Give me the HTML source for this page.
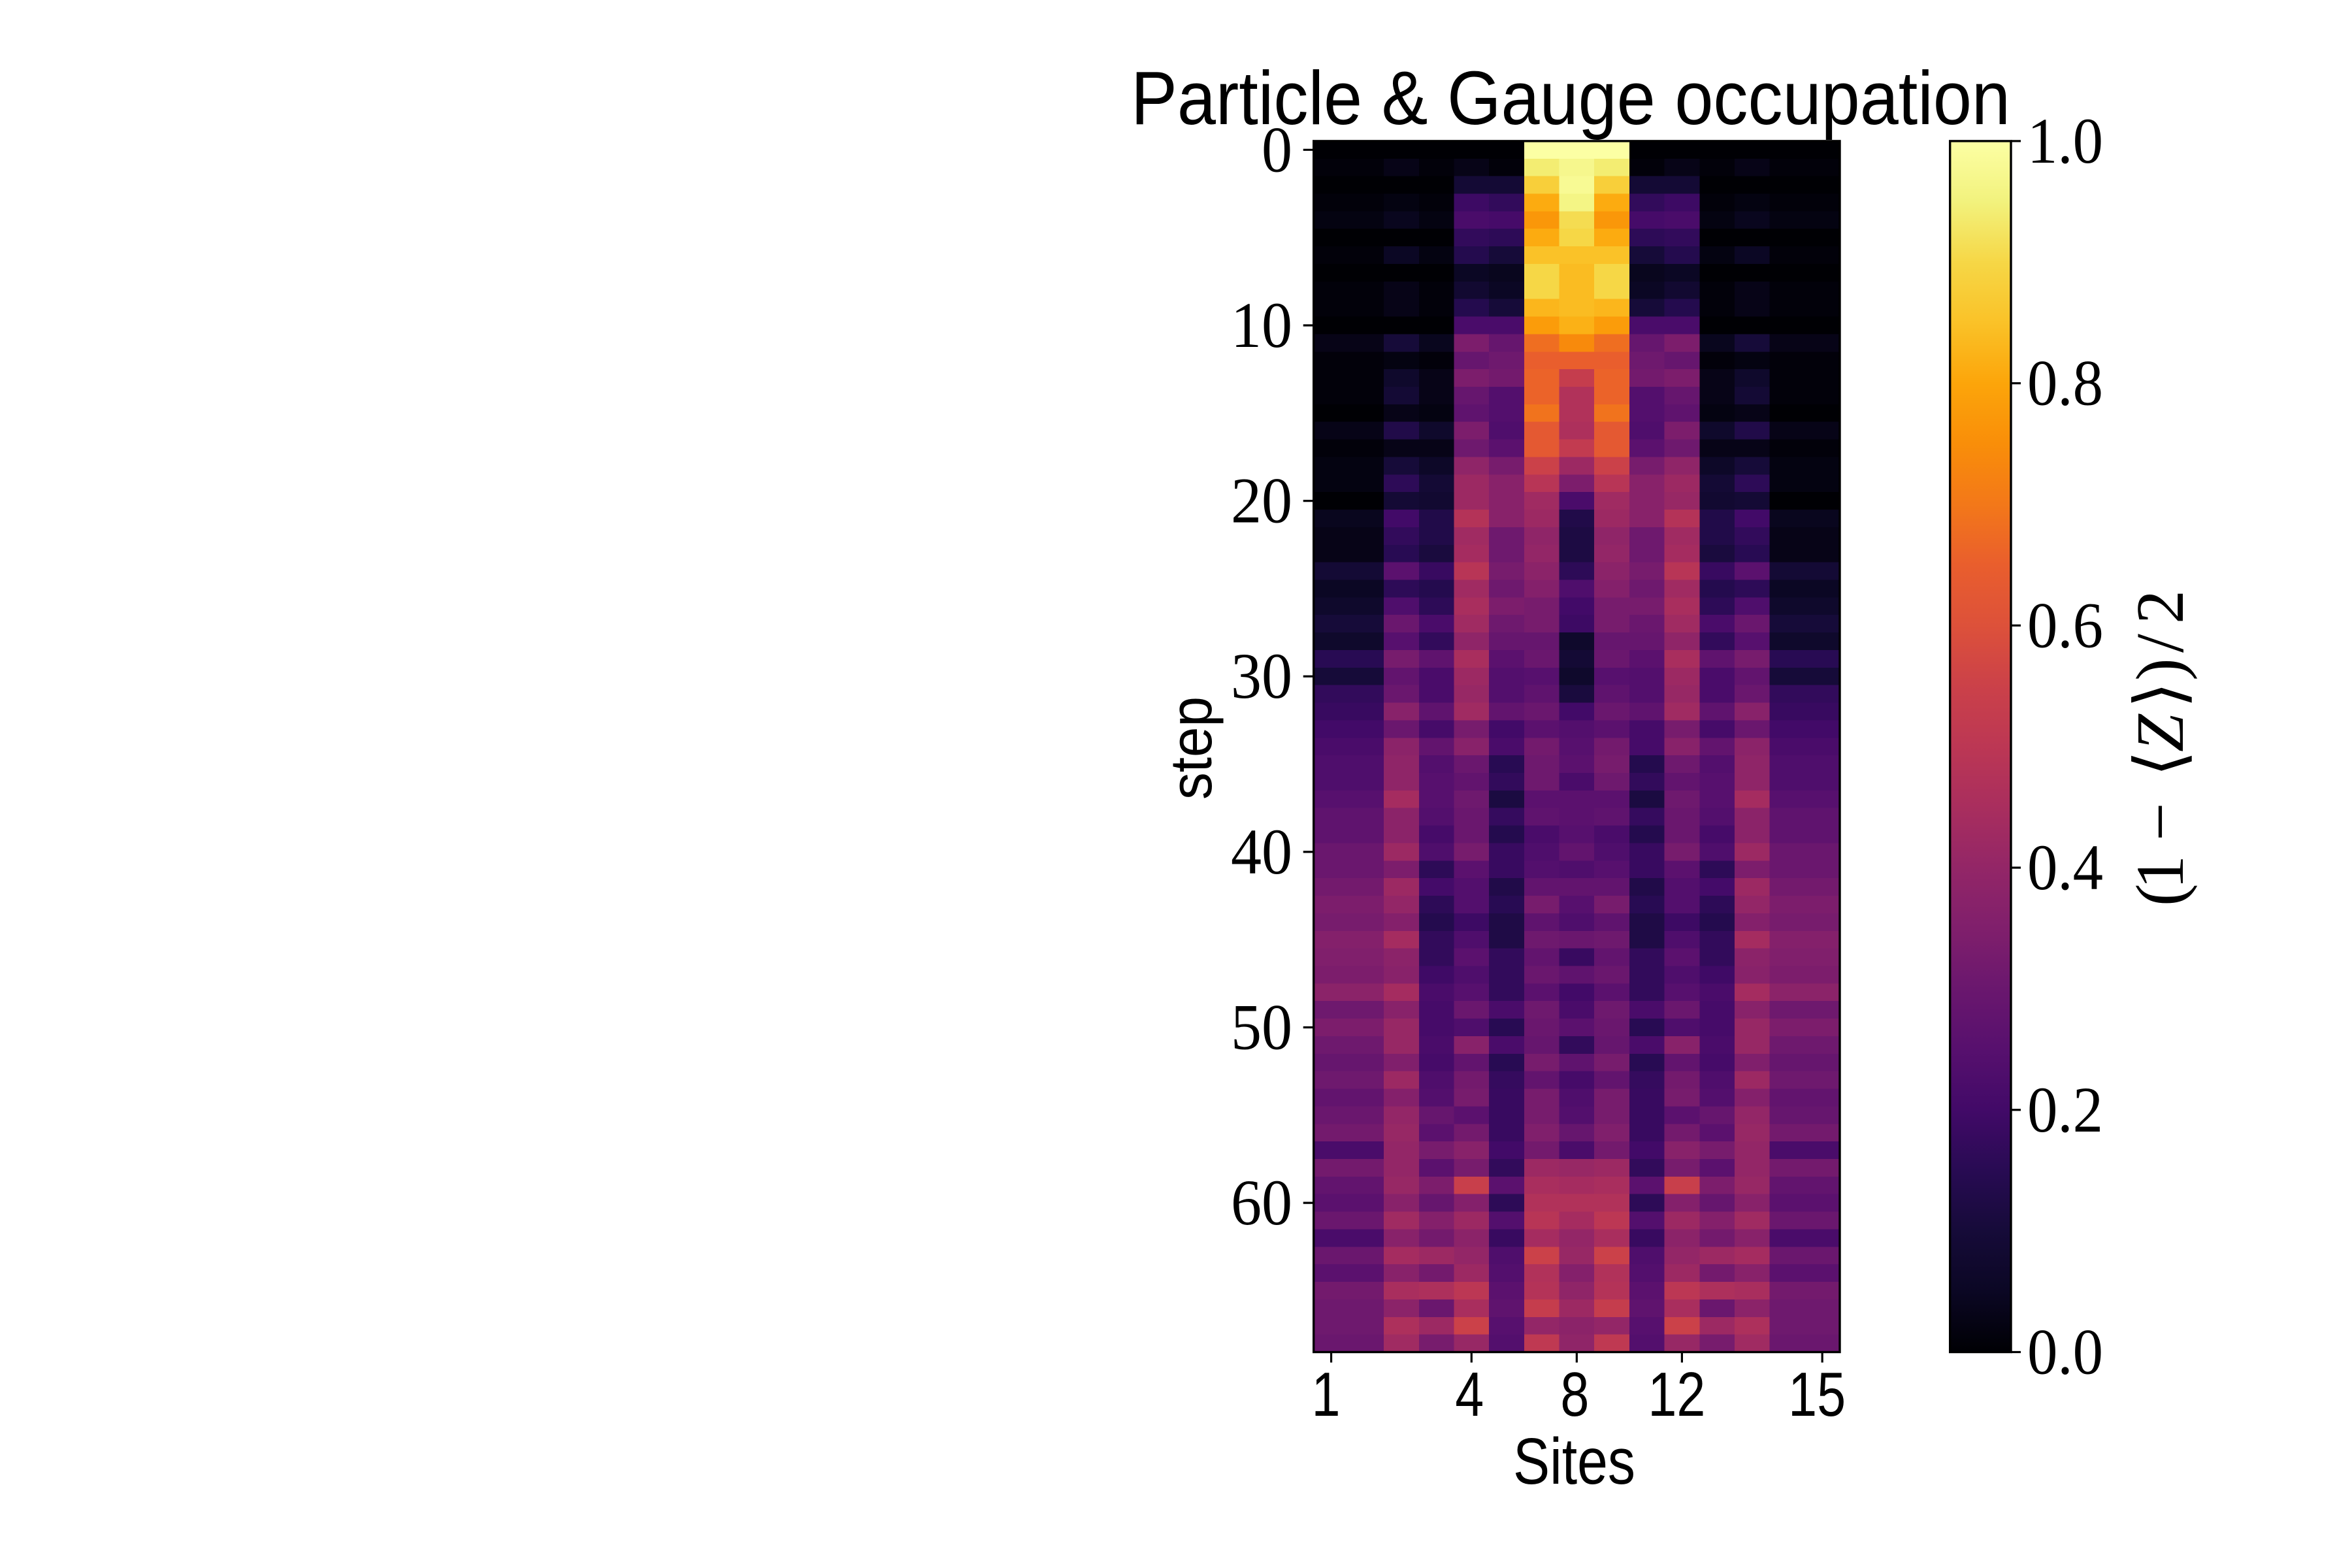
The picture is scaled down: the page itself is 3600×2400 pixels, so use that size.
<!DOCTYPE html>
<html>
<head>
<meta charset="utf-8">
<title>Particle &amp; Gauge occupation</title>
<style>
html,body{margin:0;padding:0;background:#fff;}
svg{display:block;}
.sans{font-family:"Liberation Sans",sans-serif;fill:#000;}
.serif{font-family:"Liberation Serif",serif;fill:#000;}
</style>
</head>
<body>
<svg id="chart" width="3600" height="2400" viewBox="0 0 3600 2400" xmlns="http://www.w3.org/2000/svg">
  <rect x="0" y="0" width="3600" height="2400" fill="#ffffff"/>
  <defs><linearGradient id="cbGradient" x1="0" y1="1" x2="0" y2="0"></linearGradient></defs>
  <g id="heatmap" shape-rendering="crispEdges"></g>
  <g id="xticks"></g>
  <g id="yticks"></g>
  <rect id="plotFrame" fill="none" stroke="#000" stroke-width="3.4"/>
  <rect id="cbBar" fill="url(#cbGradient)" stroke="#000" stroke-width="3.4"/>
  <g id="cbticks"></g>
  <text class="sans" x="1731" y="190" font-size="116" textLength="1346" lengthAdjust="spacingAndGlyphs">Particle &amp; Gauge occupation</text>
  <text class="sans" x="2316" y="2271" font-size="100" textLength="187" lengthAdjust="spacingAndGlyphs">Sites</text>
  <text class="sans" transform="translate(1854 1224) rotate(-90)" x="0" y="0" font-size="90" textLength="158" lengthAdjust="spacingAndGlyphs">step</text>
  <text class="serif" transform="translate(3341 1387) rotate(-90)" y="0" font-size="104" x="0 26 100 198 236 303 345 388 432">(1−⟨<tspan font-style="italic">Z</tspan>⟩)/2</text>
</svg>
<script>
var siteNames = ['1','2','3','4','5','6','7','8','9','10','11','12','13','14','15'];
var xTickSites = [0,4,7,10,14];
var xTickLabels = ['1','4','8','12','15'];
var yTickSteps = [0,10,20,30,40,50,60];
var yTickLabels = ['0','10','20','30','40','50','60'];
var colorbarTicks = [0,0.2,0.4,0.6,0.8,1];
var colorbarTickLabels = ['0.0','0.2','0.4','0.6','0.8','1.0'];
var infernoStops = ['#000004','#0b0724','#160b39','#280b53','#420a68','#57106e','#6a176e','#801f6c','#932667','#a92e5e','#bc3754','#cb4149','#dd513a','#e95e2d','#f37819','#f98e09','#fca50a','#fac228','#f6d746','#f2f27d','#fcffa4'];
var occupationRows = [
[0,0,0,0,0,0,1,1,1,0,0,0,0,0,0],
[.01,.01,.03,.01,.03,.01,.94,.97,.94,.01,.03,.01,.03,.01,.01],
[0,0,0,0,.09,.09,.88,.98,.88,.09,.09,0,0,0,0],
[.01,.01,.02,.01,.19,.17,.81,.96,.81,.17,.19,.01,.02,.01,.01],
[.02,.02,.04,.02,.22,.21,.77,.91,.77,.21,.22,.02,.04,.02,.02],
[0,0,0,0,.17,.16,.81,.90,.81,.16,.17,0,0,0,0],
[.01,.01,.05,.02,.14,.10,.85,.85,.85,.10,.14,.02,.05,.01,.01],
[0,0,0,0,.05,.04,.90,.84,.90,.04,.05,0,0,0,0],
[.01,.01,.03,.01,.08,.05,.90,.84,.90,.05,.08,.01,.03,.01,.01],
[.01,.01,.03,.01,.14,.10,.83,.84,.83,.10,.14,.01,.03,.01,.01],
[0,0,0,0,.22,.22,.78,.82,.78,.22,.22,0,0,0,0],
[.03,.03,.10,.04,.34,.29,.68,.74,.68,.29,.34,.04,.10,.03,.03],
[.01,.01,.02,.01,.29,.31,.65,.65,.65,.31,.29,.01,.02,.01,.01],
[.01,.01,.07,.03,.34,.32,.66,.53,.66,.32,.34,.03,.07,.01,.01],
[.01,.01,.09,.03,.29,.24,.66,.47,.66,.24,.29,.03,.09,.01,.01],
[0,0,.03,.02,.27,.24,.69,.47,.69,.24,.27,.02,.03,0,0],
[.03,.03,.13,.07,.34,.23,.63,.46,.63,.23,.34,.07,.13,.03,.03],
[.01,.01,.03,.03,.31,.26,.63,.52,.63,.26,.31,.03,.03,.01,.01],
[.02,.02,.10,.06,.39,.33,.55,.42,.55,.33,.39,.06,.10,.02,.02],
[.02,.02,.16,.09,.42,.37,.49,.34,.49,.37,.42,.09,.16,.02,.02],
[0,0,.09,.08,.42,.37,.43,.22,.43,.37,.41,.08,.09,0,0],
[.04,.04,.20,.13,.48,.37,.42,.13,.42,.37,.48,.13,.20,.04,.04],
[.03,.03,.17,.13,.43,.31,.39,.12,.39,.31,.43,.13,.17,.03,.03],
[.03,.03,.15,.11,.44,.31,.40,.12,.40,.31,.44,.11,.15,.03,.03],
[.09,.09,.26,.18,.49,.33,.38,.16,.38,.33,.49,.18,.26,.09,.09],
[.05,.05,.16,.14,.43,.31,.36,.23,.36,.31,.43,.14,.16,.05,.05],
[.07,.07,.23,.16,.45,.34,.33,.20,.33,.33,.45,.16,.23,.07,.07],
[.10,.10,.30,.22,.43,.31,.33,.19,.33,.30,.43,.22,.30,.10,.10],
[.07,.07,.25,.17,.39,.29,.29,.07,.29,.29,.39,.17,.25,.07,.07],
[.15,.15,.33,.27,.45,.26,.30,.09,.30,.26,.45,.27,.33,.15,.15],
[.10,.10,.28,.22,.42,.24,.25,.07,.25,.24,.42,.22,.28,.10,.10],
[.17,.17,.30,.22,.41,.24,.27,.11,.27,.24,.41,.22,.30,.17,.17],
[.18,.18,.37,.27,.43,.28,.30,.20,.30,.27,.43,.27,.37,.18,.18],
[.20,.20,.30,.21,.33,.20,.26,.24,.26,.21,.33,.21,.30,.20,.20],
[.22,.22,.38,.28,.37,.22,.32,.25,.32,.21,.37,.28,.38,.22,.22],
[.23,.23,.39,.24,.30,.15,.31,.26,.33,.14,.31,.24,.39,.23,.23],
[.23,.23,.39,.25,.28,.17,.31,.22,.31,.17,.28,.25,.39,.23,.23],
[.25,.25,.44,.25,.31,.115,.26,.26,.26,.115,.31,.25,.44,.25,.25],
[.27,.27,.38,.24,.30,.175,.27,.26,.27,.175,.30,.24,.38,.27,.27],
[.27,.27,.38,.21,.30,.14,.22,.25,.22,.14,.30,.21,.38,.27,.27],
[.30,.30,.42,.23,.33,.18,.23,.28,.23,.18,.33,.23,.42,.30,.30],
[.30,.30,.34,.16,.26,.18,.24,.23,.25,.18,.26,.16,.34,.30,.30],
[.32,.32,.42,.205,.24,.13,.28,.28,.28,.13,.24,.205,.42,.32,.32],
[.34,.34,.40,.16,.24,.15,.33,.25,.33,.15,.24,.16,.40,.34,.34],
[.33,.33,.36,.14,.19,.125,.27,.23,.27,.125,.19,.14,.36,.33,.33],
[.36,.36,.44,.17,.23,.125,.31,.30,.31,.125,.23,.17,.44,.36,.36],
[.35,.35,.38,.17,.26,.17,.28,.18,.28,.17,.26,.17,.38,.35,.35],
[.34,.34,.37,.195,.23,.17,.30,.27,.30,.17,.23,.195,.37,.34,.34],
[.38,.38,.44,.22,.25,.17,.26,.20,.26,.17,.25,.22,.44,.38,.38],
[.31,.31,.37,.21,.30,.22,.31,.22,.31,.22,.30,.21,.37,.31,.31],
[.34,.34,.41,.21,.23,.15,.30,.26,.30,.15,.23,.21,.41,.34,.34],
[.31,.31,.41,.22,.37,.22,.29,.17,.29,.22,.37,.22,.41,.31,.31],
[.29,.29,.35,.21,.28,.15,.33,.27,.33,.15,.28,.21,.35,.29,.29],
[.31,.31,.42,.23,.32,.175,.28,.21,.28,.175,.32,.23,.42,.31,.31],
[.28,.28,.36,.24,.33,.18,.33,.23,.33,.18,.33,.24,.36,.28,.28],
[.30,.30,.40,.29,.26,.18,.33,.24,.33,.18,.26,.29,.40,.29,.29],
[.32,.32,.41,.26,.32,.18,.35,.29,.35,.18,.32,.26,.41,.32,.32],
[.22,.22,.40,.33,.37,.20,.32,.22,.32,.20,.37,.33,.40,.22,.22],
[.32,.32,.40,.26,.33,.17,.42,.41,.42,.17,.33,.26,.40,.32,.32],
[.28,.28,.41,.34,.54,.26,.45,.44,.45,.26,.54,.34,.41,.28,.28],
[.26,.26,.37,.29,.36,.16,.47,.47,.47,.16,.36,.29,.37,.26,.26],
[.30,.30,.43,.36,.42,.24,.49,.44,.50,.24,.42,.36,.43,.30,.30],
[.22,.22,.37,.32,.38,.18,.44,.40,.45,.18,.38,.32,.37,.22,.22],
[.30,.30,.44,.42,.40,.23,.55,.41,.55,.23,.40,.42,.44,.30,.30],
[.26,.26,.37,.32,.42,.24,.47,.36,.47,.24,.42,.32,.37,.26,.26],
[.32,.32,.45,.46,.50,.26,.48,.39,.48,.26,.50,.46,.45,.32,.32],
[.31,.31,.38,.30,.45,.27,.53,.42,.53,.27,.45,.30,.38,.31,.31],
[.31,.31,.46,.42,.55,.25,.40,.38,.40,.25,.55,.42,.46,.31,.31],
[.30,.30,.43,.33,.41,.24,.51,.39,.51,.24,.41,.33,.43,.30,.30]
];

var SVG_NS = 'http://www.w3.org/2000/svg';
var plotLeft = 2010.7, plotRight = 2816, plotTop = 215.9, plotBottom = 2069.5;
var barLeft = 2984.7, barRight = 3078;

function hexToRgb(h){
  return [parseInt(h.substr(1,2),16),parseInt(h.substr(3,2),16),parseInt(h.substr(5,2),16)];
}
function inferno(v){
  var t = Math.max(0,Math.min(1,v))*(infernoStops.length-1);
  var i = Math.min(Math.floor(t),infernoStops.length-2);
  var f = t-i, a = hexToRgb(infernoStops[i]), b = hexToRgb(infernoStops[i+1]);
  return 'rgb('+Math.round(a[0]+(b[0]-a[0])*f)+','+Math.round(a[1]+(b[1]-a[1])*f)+','+Math.round(a[2]+(b[2]-a[2])*f)+')';
}
function cellWidth(){ return (plotRight-plotLeft)/siteNames.length; }
function cellHeight(){ return (plotBottom-plotTop)/occupationRows.length; }
function xEdge(col){ return plotLeft+col*cellWidth(); }
function yEdge(row){ return plotTop+row*cellHeight(); }
function xCenter(col){ return xEdge(col+0.5); }
function yCenter(row){ return yEdge(row+0.5); }
function barY(v){ return plotBottom-(plotBottom-plotTop)*v; }
function make(tag,attrs,parent){
  var el = document.createElementNS(SVG_NS,tag);
  for(var k in attrs){ el.setAttribute(k,attrs[k]); }
  parent.appendChild(el);
  return el;
}

var heatmap = document.getElementById('heatmap');
occupationRows.forEach(function(row,r){
  row.forEach(function(v,c){
    var cell = make('rect',{x:xEdge(c),y:yEdge(r),width:cellWidth()+0.6,height:cellHeight()+0.6,fill:inferno(v)},heatmap);
    
    
  });
});

var frame = document.getElementById('plotFrame');
frame.setAttribute('x',plotLeft);
frame.setAttribute('y',plotTop);
frame.setAttribute('width',plotRight-plotLeft);
frame.setAttribute('height',plotBottom-plotTop);

var xTicks = document.getElementById('xticks');
xTickSites.forEach(function(site,i){
  var x = xCenter(site);
  var tick = make('line',{x1:x,x2:x,y1:plotBottom,y2:plotBottom+16,stroke:'#000','stroke-width':3.2},xTicks);
  
  
  var nudge = xTickLabels[i].indexOf('1') >= 0 ? -8 : -3;
  var label = make('text',{x:x+nudge,y:2167,'text-anchor':'middle','font-size':96,'class':'sans',textLength:xTickLabels[i].length*44,lengthAdjust:'spacingAndGlyphs'},xTicks);
  label.textContent = xTickLabels[i];
  
  
});

var yTicks = document.getElementById('yticks');
yTickSteps.forEach(function(step,i){
  var y = yCenter(step);
  var tick = make('line',{x1:plotLeft-16,x2:plotLeft,y1:y,y2:y,stroke:'#000','stroke-width':3.2},yTicks);
  
  
  var label = make('text',{x:1978,y:y+33,'text-anchor':'end','font-size':100,'class':'serif',textLength:yTickLabels[i].length*47,lengthAdjust:'spacingAndGlyphs'},yTicks);
  label.textContent = yTickLabels[i];
  
  
});

var gradient = document.getElementById('cbGradient');
infernoStops.forEach(function(col,i){
  make('stop',{offset:i/(infernoStops.length-1),'stop-color':col},gradient);
});
var bar = document.getElementById('cbBar');
bar.setAttribute('x',barLeft);
bar.setAttribute('y',plotTop);
bar.setAttribute('width',barRight-barLeft);
bar.setAttribute('height',plotBottom-plotTop);

var cbTicks = document.getElementById('cbticks');
colorbarTicks.forEach(function(v,i){
  var y = barY(v);
  var tick = make('line',{x1:barRight,x2:barRight+15,y1:y,y2:y,stroke:'#000','stroke-width':3.2},cbTicks);
  
  
  var label = make('text',{x:3103,y:y+33,'font-size':100,'class':'serif',textLength:116,lengthAdjust:'spacingAndGlyphs'},cbTicks);
  label.textContent = colorbarTickLabels[i];
  
  
});
</script>
</body>
</html>
